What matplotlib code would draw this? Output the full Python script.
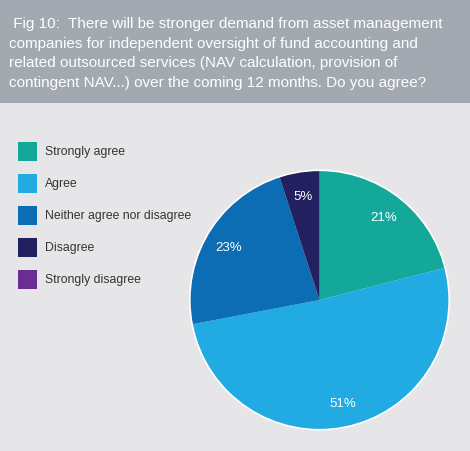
import matplotlib.pyplot as plt
from matplotlib.patches import Rectangle, Circle

plt.rcParams['font.family'] = ['Liberation Sans', 'DejaVu Sans']

categories = ["Strongly agree", "Agree", "Neither agree nor disagree",
              "Disagree", "Strongly disagree"]
shares = [21, 51, 23, 5, 0]
colors = ["#14a89a", "#22aae2", "#0c6db5", "#232060", "#6a2d91"]

title_lines = [
    " Fig 10:  There will be stronger demand from asset management",
    "companies for independent oversight of fund accounting and",
    "related outsourced services (NAV calculation, provision of",
    "contingent NAV...) over the coming 12 months. Do you agree?",
]

W, H = 470, 452
fig = plt.figure(figsize=(W / 100, H / 100), dpi=100)
fig.patch.set_facecolor("#e6e6e8")

# header band
fig.patches.append(Rectangle((0, 1 - 104 / H), 1, 104 / H, transform=fig.transFigure,
                             facecolor="#a3a9b1", edgecolor="none"))
for i, line in enumerate(title_lines):
    fig.text(9 / W, 1 - (28 + i * 19.7) / H, line, color="white", fontsize=11,
             va="baseline", ha="left")

# pie
cx, cy, r = 319.5, 301, 131
ax = fig.add_axes([(cx - r) / W, (H - cy - r) / H, 2 * r / W, 2 * r / H])
vals = [v for v in shares if v > 0]
cols = [c for v, c in zip(shares, colors) if v > 0]
wedges, texts = ax.pie(vals, colors=cols, startangle=90, counterclock=False,
                       radius=1, labels=[f"{v}%" for v in vals], labeldistance=0.81,
                       wedgeprops=dict(linewidth=0),
                       textprops=dict(color="white", fontsize=9.5))
for t in texts:
    t.set_ha("center")
    t.set_va("center")
ax.add_patch(Circle((0, 0), 1, fill=False, edgecolor="white", linewidth=1.2))
ax.set_xlim(-1.01, 1.01)
ax.set_ylim(-1.01, 1.01)
ax.axis("off")

# legend: coloured squares with labels
for i, (lab, col) in enumerate(zip(categories, colors)):
    top = 143 + 32 * i
    fig.patches.append(Rectangle((18 / W, 1 - (top + 19) / H), 19 / W, 19 / H,
                                 transform=fig.transFigure, facecolor=col,
                                 edgecolor="none"))
    fig.text(45 / W, 1 - (top + 9.5) / H, lab, color="#333333", fontsize=8.8,
             va="center", ha="left")

fig.savefig("out.png", dpi=100, facecolor=fig.get_facecolor())
